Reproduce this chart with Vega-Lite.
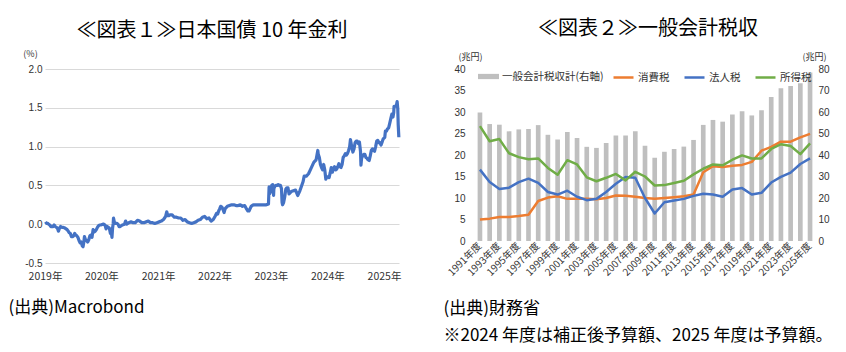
{
  "$schema": "https://vega.github.io/schema/vega-lite/v6.json",
  "padding": {"left": 8, "top": 19, "right": 5, "bottom": 5},
  "bounds": "flush",
  "spacing": 76,
  "config": {"view": {"stroke": null}, "font": "Noto Sans CJK JP", "axis": {"labelFont": "Liberation Sans", "labelColor": "#333333"}},
  "datasets": {
    "jgb": [
      {"date":"2019-01-04","yield":0.03},{"date":"2019-01-11","yield":0.01},{"date":"2019-01-18","yield":0.01},{"date":"2019-01-25","yield":0.0},
      {"date":"2019-02-01","yield":-0.01},{"date":"2019-02-08","yield":-0.03},{"date":"2019-02-15","yield":-0.03},{"date":"2019-02-22","yield":-0.03},
      {"date":"2019-03-01","yield":-0.01},{"date":"2019-03-08","yield":-0.03},{"date":"2019-03-15","yield":-0.04},{"date":"2019-03-22","yield":-0.05},{"date":"2019-03-29","yield":-0.09},
      {"date":"2019-04-05","yield":-0.05},{"date":"2019-04-12","yield":-0.03},{"date":"2019-04-19","yield":-0.04},{"date":"2019-04-26","yield":-0.04},
      {"date":"2019-05-10","yield":-0.05},{"date":"2019-05-17","yield":-0.06},{"date":"2019-05-24","yield":-0.07},{"date":"2019-05-31","yield":-0.09},
      {"date":"2019-06-07","yield":-0.11},{"date":"2019-06-14","yield":-0.12},{"date":"2019-06-21","yield":-0.16},{"date":"2019-06-28","yield":-0.16},
      {"date":"2019-07-05","yield":-0.15},{"date":"2019-07-12","yield":-0.12},{"date":"2019-07-19","yield":-0.14},{"date":"2019-07-26","yield":-0.15},
      {"date":"2019-08-02","yield":-0.17},{"date":"2019-08-09","yield":-0.21},{"date":"2019-08-16","yield":-0.24},{"date":"2019-08-23","yield":-0.23},{"date":"2019-08-30","yield":-0.28},
      {"date":"2019-09-04","yield":-0.29},{"date":"2019-09-10","yield":-0.22},{"date":"2019-09-13","yield":-0.16},{"date":"2019-09-20","yield":-0.2},{"date":"2019-09-27","yield":-0.21},
      {"date":"2019-10-04","yield":-0.23},{"date":"2019-10-11","yield":-0.2},{"date":"2019-10-18","yield":-0.15},{"date":"2019-10-25","yield":-0.14},
      {"date":"2019-11-01","yield":-0.17},{"date":"2019-11-08","yield":-0.07},{"date":"2019-11-15","yield":-0.1},{"date":"2019-11-22","yield":-0.09},{"date":"2019-11-29","yield":-0.07},
      {"date":"2019-12-06","yield":-0.04},{"date":"2019-12-13","yield":-0.02},{"date":"2019-12-20","yield":-0.01},{"date":"2019-12-27","yield":-0.01},
      {"date":"2020-01-10","yield":0.0},{"date":"2020-01-17","yield":0.0},{"date":"2020-01-24","yield":-0.01},{"date":"2020-01-31","yield":-0.06},
      {"date":"2020-02-07","yield":-0.03},{"date":"2020-02-14","yield":-0.04},{"date":"2020-02-21","yield":-0.05},{"date":"2020-02-28","yield":-0.12},
      {"date":"2020-03-06","yield":-0.12},{"date":"2020-03-09","yield":-0.17},{"date":"2020-03-13","yield":-0.05},{"date":"2020-03-17","yield":0.01},{"date":"2020-03-19","yield":0.08},{"date":"2020-03-24","yield":0.03},{"date":"2020-03-31","yield":0.01},
      {"date":"2020-04-10","yield":0.01},{"date":"2020-04-17","yield":0.0},{"date":"2020-04-24","yield":-0.03},{"date":"2020-05-01","yield":-0.03},{"date":"2020-05-15","yield":-0.01},{"date":"2020-05-29","yield":0.0},
      {"date":"2020-06-05","yield":0.04},{"date":"2020-06-12","yield":0.0},{"date":"2020-06-26","yield":0.02},{"date":"2020-07-10","yield":0.03},{"date":"2020-07-24","yield":0.02},
      {"date":"2020-08-07","yield":0.02},{"date":"2020-08-21","yield":0.05},{"date":"2020-09-04","yield":0.04},{"date":"2020-09-18","yield":0.02},
      {"date":"2020-10-02","yield":0.02},{"date":"2020-10-16","yield":0.03},{"date":"2020-10-30","yield":0.04},{"date":"2020-11-13","yield":0.02},{"date":"2020-11-27","yield":0.02},
      {"date":"2020-12-11","yield":0.01},{"date":"2020-12-25","yield":0.02},
      {"date":"2021-01-08","yield":0.03},{"date":"2021-01-22","yield":0.04},{"date":"2021-02-05","yield":0.06},{"date":"2021-02-12","yield":0.08},{"date":"2021-02-19","yield":0.1},{"date":"2021-02-26","yield":0.16},
      {"date":"2021-03-05","yield":0.11},{"date":"2021-03-12","yield":0.11},{"date":"2021-03-19","yield":0.12},{"date":"2021-04-02","yield":0.12},{"date":"2021-04-16","yield":0.09},{"date":"2021-04-30","yield":0.09},
      {"date":"2021-05-14","yield":0.08},{"date":"2021-05-28","yield":0.08},{"date":"2021-06-11","yield":0.05},{"date":"2021-06-25","yield":0.06},
      {"date":"2021-07-09","yield":0.03},{"date":"2021-07-23","yield":0.02},{"date":"2021-08-06","yield":0.01},{"date":"2021-08-20","yield":0.02},
      {"date":"2021-09-03","yield":0.03},{"date":"2021-09-17","yield":0.05},{"date":"2021-10-01","yield":0.06},{"date":"2021-10-15","yield":0.09},{"date":"2021-10-29","yield":0.1},
      {"date":"2021-11-12","yield":0.07},{"date":"2021-11-26","yield":0.08},{"date":"2021-12-10","yield":0.04},{"date":"2021-12-24","yield":0.06},
      {"date":"2022-01-07","yield":0.11},{"date":"2022-01-14","yield":0.14},{"date":"2022-01-21","yield":0.13},{"date":"2022-01-28","yield":0.17},
      {"date":"2022-02-04","yield":0.2},{"date":"2022-02-10","yield":0.23},{"date":"2022-02-18","yield":0.22},{"date":"2022-02-25","yield":0.19},
      {"date":"2022-03-04","yield":0.15},{"date":"2022-03-11","yield":0.2},{"date":"2022-03-25","yield":0.23},{"date":"2022-04-08","yield":0.24},{"date":"2022-04-22","yield":0.25},
      {"date":"2022-05-06","yield":0.25},{"date":"2022-05-20","yield":0.24},{"date":"2022-06-03","yield":0.24},{"date":"2022-06-17","yield":0.25},
      {"date":"2022-07-01","yield":0.23},{"date":"2022-07-15","yield":0.24},{"date":"2022-07-29","yield":0.19},{"date":"2022-08-05","yield":0.17},{"date":"2022-08-12","yield":0.17},{"date":"2022-08-26","yield":0.23},
      {"date":"2022-09-09","yield":0.25},{"date":"2022-09-23","yield":0.25},{"date":"2022-10-07","yield":0.25},{"date":"2022-10-21","yield":0.25},{"date":"2022-11-04","yield":0.25},{"date":"2022-11-18","yield":0.25},
      {"date":"2022-12-02","yield":0.25},{"date":"2022-12-16","yield":0.26},{"date":"2022-12-20","yield":0.48},{"date":"2022-12-23","yield":0.39},{"date":"2022-12-30","yield":0.42},
      {"date":"2023-01-06","yield":0.5},{"date":"2023-01-13","yield":0.51},{"date":"2023-01-18","yield":0.37},{"date":"2023-01-20","yield":0.46},{"date":"2023-01-27","yield":0.49},
      {"date":"2023-02-03","yield":0.5},{"date":"2023-02-10","yield":0.5},{"date":"2023-02-17","yield":0.51},{"date":"2023-02-24","yield":0.5},
      {"date":"2023-03-03","yield":0.5},{"date":"2023-03-10","yield":0.46},{"date":"2023-03-14","yield":0.28},{"date":"2023-03-17","yield":0.25},{"date":"2023-03-24","yield":0.28},{"date":"2023-03-31","yield":0.35},
      {"date":"2023-04-07","yield":0.45},{"date":"2023-04-14","yield":0.47},{"date":"2023-04-21","yield":0.47},{"date":"2023-04-28","yield":0.39},
      {"date":"2023-05-12","yield":0.42},{"date":"2023-05-26","yield":0.43},{"date":"2023-06-09","yield":0.44},{"date":"2023-06-23","yield":0.37},
      {"date":"2023-07-07","yield":0.43},{"date":"2023-07-14","yield":0.47},{"date":"2023-07-28","yield":0.55},{"date":"2023-08-04","yield":0.62},{"date":"2023-08-18","yield":0.62},
      {"date":"2023-09-01","yield":0.65},{"date":"2023-09-15","yield":0.71},{"date":"2023-09-29","yield":0.77},{"date":"2023-10-06","yield":0.8},{"date":"2023-10-20","yield":0.83},{"date":"2023-10-31","yield":0.95},
      {"date":"2023-11-03","yield":0.9},{"date":"2023-11-10","yield":0.86},{"date":"2023-11-17","yield":0.77},{"date":"2023-11-24","yield":0.73},
      {"date":"2023-12-01","yield":0.7},{"date":"2023-12-08","yield":0.77},{"date":"2023-12-15","yield":0.7},{"date":"2023-12-22","yield":0.58},{"date":"2023-12-29","yield":0.61},
      {"date":"2024-01-05","yield":0.61},{"date":"2024-01-12","yield":0.6},{"date":"2024-01-19","yield":0.66},{"date":"2024-01-26","yield":0.73},
      {"date":"2024-02-02","yield":0.67},{"date":"2024-02-09","yield":0.72},{"date":"2024-02-16","yield":0.74},{"date":"2024-02-23","yield":0.7},
      {"date":"2024-03-01","yield":0.71},{"date":"2024-03-08","yield":0.74},{"date":"2024-03-15","yield":0.78},{"date":"2024-03-22","yield":0.74},{"date":"2024-03-29","yield":0.73},
      {"date":"2024-04-05","yield":0.77},{"date":"2024-04-12","yield":0.86},{"date":"2024-04-19","yield":0.88},{"date":"2024-04-26","yield":0.91},
      {"date":"2024-05-02","yield":0.89},{"date":"2024-05-10","yield":0.91},{"date":"2024-05-17","yield":0.95},{"date":"2024-05-24","yield":1.0},{"date":"2024-05-29","yield":1.09},
      {"date":"2024-06-07","yield":0.99},{"date":"2024-06-14","yield":0.93},{"date":"2024-06-21","yield":0.97},{"date":"2024-06-28","yield":1.05},
      {"date":"2024-07-05","yield":1.07},{"date":"2024-07-12","yield":1.07},{"date":"2024-07-19","yield":1.04},{"date":"2024-07-26","yield":1.06},
      {"date":"2024-08-02","yield":0.94},{"date":"2024-08-05","yield":0.76},{"date":"2024-08-09","yield":0.85},{"date":"2024-08-16","yield":0.88},{"date":"2024-08-23","yield":0.9},{"date":"2024-08-30","yield":0.9},
      {"date":"2024-09-06","yield":0.86},{"date":"2024-09-13","yield":0.85},{"date":"2024-09-20","yield":0.83},{"date":"2024-09-27","yield":0.82},
      {"date":"2024-10-04","yield":0.88},{"date":"2024-10-11","yield":0.95},{"date":"2024-10-18","yield":0.97},{"date":"2024-10-25","yield":0.95},
      {"date":"2024-11-01","yield":0.94},{"date":"2024-11-08","yield":1.0},{"date":"2024-11-15","yield":1.07},{"date":"2024-11-22","yield":1.08},{"date":"2024-11-29","yield":1.05},
      {"date":"2024-12-06","yield":1.05},{"date":"2024-12-13","yield":1.02},{"date":"2024-12-20","yield":1.06},{"date":"2024-12-27","yield":1.1},
      {"date":"2025-01-06","yield":1.12},{"date":"2025-01-10","yield":1.2},{"date":"2025-01-17","yield":1.2},{"date":"2025-01-24","yield":1.23},{"date":"2025-01-31","yield":1.24},
      {"date":"2025-02-07","yield":1.3},{"date":"2025-02-14","yield":1.36},{"date":"2025-02-21","yield":1.42},{"date":"2025-02-28","yield":1.38},
      {"date":"2025-03-05","yield":1.44},{"date":"2025-03-07","yield":1.52},{"date":"2025-03-14","yield":1.52},{"date":"2025-03-21","yield":1.52},{"date":"2025-03-27","yield":1.58},{"date":"2025-03-31","yield":1.49},
      {"date":"2025-04-03","yield":1.28},{"date":"2025-04-07","yield":1.12}
    ],
    "tax": [
      {"年度":"1991年度","税収計":59.8,"消費税":5.0,"法人税":16.6,"所得税":26.7},
      {"年度":"1992年度","税収計":54.4,"消費税":5.2,"法人税":13.7,"所得税":23.2},
      {"年度":"1993年度","税収計":54.1,"消費税":5.6,"法人税":12.1,"所得税":23.7},
      {"年度":"1994年度","税収計":51.0,"消費税":5.6,"法人税":12.4,"所得税":20.4},
      {"年度":"1995年度","税収計":51.9,"消費税":5.8,"法人税":13.7,"所得税":19.5},
      {"年度":"1996年度","税収計":52.1,"消費税":6.1,"法人税":14.5,"所得税":19.0},
      {"年度":"1997年度","税収計":53.9,"消費税":9.3,"法人税":13.5,"所得税":19.2},
      {"年度":"1998年度","税収計":49.4,"消費税":10.1,"法人税":11.4,"所得税":17.0},
      {"年度":"1999年度","税収計":47.2,"消費税":10.4,"法人税":10.8,"所得税":15.4},
      {"年度":"2000年度","税収計":50.7,"消費税":9.8,"法人税":11.7,"所得税":18.8},
      {"年度":"2001年度","税収計":47.9,"消費税":9.8,"法人税":10.3,"所得税":17.8},
      {"年度":"2002年度","税収計":43.8,"消費税":9.8,"法人税":9.5,"所得税":14.8},
      {"年度":"2003年度","税収計":43.3,"消費税":9.7,"法人税":9.8,"所得税":13.9},
      {"年度":"2004年度","税収計":45.6,"消費税":10.0,"法人税":11.4,"所得税":14.7},
      {"年度":"2005年度","税収計":49.1,"消費税":10.6,"法人税":13.3,"所得税":15.6},
      {"年度":"2006年度","税収計":49.1,"消費税":10.5,"法人税":14.9,"所得税":14.1},
      {"年度":"2007年度","税収計":51.0,"消費税":10.3,"法人税":14.7,"所得税":16.1},
      {"年度":"2008年度","税収計":44.3,"消費税":10.0,"法人税":10.0,"所得税":15.0},
      {"年度":"2009年度","税収計":38.7,"消費税":9.8,"法人税":6.4,"所得税":12.9},
      {"年度":"2010年度","税収計":41.5,"消費税":10.0,"法人税":9.0,"所得税":13.0},
      {"年度":"2011年度","税収計":42.8,"消費税":10.2,"法人税":9.4,"所得税":13.5},
      {"年度":"2012年度","税収計":43.9,"消費税":10.4,"法人税":9.8,"所得税":14.0},
      {"年度":"2013年度","税収計":47.0,"消費税":10.8,"法人税":10.5,"所得税":15.5},
      {"年度":"2014年度","税収計":54.0,"消費税":16.0,"法人税":11.0,"所得税":16.8},
      {"年度":"2015年度","税収計":56.3,"消費税":17.4,"法人税":10.8,"所得税":17.8},
      {"年度":"2016年度","税収計":55.5,"消費税":17.2,"法人税":10.3,"所得税":17.6},
      {"年度":"2017年度","税収計":58.8,"消費税":17.5,"法人税":12.0,"所得税":18.9},
      {"年度":"2018年度","税収計":60.4,"消費税":17.7,"法人税":12.3,"所得税":19.9},
      {"年度":"2019年度","税収計":58.4,"消費税":18.4,"法人税":10.8,"所得税":19.2},
      {"年度":"2020年度","税収計":60.8,"消費税":21.0,"法人税":11.2,"所得税":19.2},
      {"年度":"2021年度","税収計":67.0,"消費税":21.9,"法人税":13.6,"所得税":21.4},
      {"年度":"2022年度","税収計":71.1,"消費税":23.1,"法人税":14.9,"所得税":22.5},
      {"年度":"2023年度","税収計":72.1,"消費税":23.1,"法人税":15.9,"所得税":22.1},
      {"年度":"2024年度","税収計":73.4,"消費税":24.1,"法人税":17.9,"所得税":20.2},
      {"年度":"2025年度","税収計":78.4,"消費税":24.9,"法人税":19.2,"所得税":22.7}
    ]
  },
  "hconcat": [
    {
      "width": 354,
      "height": 194,
      "title": {"text": "≪図表１≫日本国債 10 年金利", "fontSize": 20, "fontWeight": "normal", "color": "#000000", "anchor": "middle", "dx": -10, "offset": -8, "baseline": "alphabetic"},
      "data": {"name": "jgb"},
      "mark": {"type": "line", "color": "#4472C4", "strokeWidth": 3.2, "strokeJoin": "round"},
      "encoding": {
        "x": {
          "field": "date", "type": "temporal",
          "scale": {"domain": ["2019-01-01", "2025-04-08"]},
          "axis": {
            "values": [{"year": 2019}, {"year": 2020}, {"year": 2021}, {"year": 2022}, {"year": 2023}, {"year": 2024}, {"year": 2025}],
            "format": "%Y年", "labelFlush": false, "labelOverlap": false, "grid": false, "ticks": false, "domain": false,
            "labelFontSize": 10.5, "labelFont": "Noto Sans CJK JP", "labelPadding": 8,
            "title": "(出典)Macrobond", "titleFontSize": 17, "titleFontWeight": "normal", "titleColor": "#000000",
            "titleAnchor": "start", "titleAlign": "left", "titleBaseline": "top", "titleX": -37, "titleY": 36
          }
        },
        "y": {
          "field": "yield", "type": "quantitative",
          "scale": {"domain": [-0.5, 2.0]},
          "axis": {
            "values": [-0.5, 0, 0.5, 1, 1.5, 2],
            "labelExpr": "replace(format(datum.value, '.1f'), '−', '-')",
            "gridColor": "#d9d9d9", "domain": false, "ticks": false, "labelFontSize": 10, "labelPadding": 3,
            "title": "(%)", "titleAngle": 0, "titleFontSize": 9, "titleFontWeight": "normal", "titleColor": "#333333",
            "titleAlign": "center", "titleBaseline": "middle", "titleX": -15, "titleY": -16
          }
        }
      }
    },
    {
      "width": 340,
      "height": 172,
      "title": {"text": "≪図表２≫一般会計税収", "fontSize": 20, "fontWeight": "normal", "color": "#000000", "anchor": "middle", "dx": 3, "offset": -3, "baseline": "alphabetic"},
      "data": {"name": "tax"},
      "layer": [
        {
          "mark": {"type": "bar"},
          "encoding": {
            "x": {
              "field": "年度", "type": "nominal", "sort": null,
              "scale": {"paddingInner": 0.52, "paddingOuter": 0.27},
              "axis": {
                "values": ["1991年度","1993年度","1995年度","1997年度","1999年度","2001年度","2003年度","2005年度","2007年度","2009年度","2011年度","2013年度","2015年度","2017年度","2019年度","2021年度","2023年度","2025年度"],
                "labelAngle": -45, "labelAlign": "right", "labelBaseline": "middle", "labelFont": "Noto Sans CJK JP",
                "labelFontSize": 10, "labelPadding": 3, "ticks": false, "domain": false, "grid": false, "labelOverlap": false,
                "title": ["(出典)財務省", "※2024 年度は補正後予算額、2025 年度は予算額。"],
                "titleFontSize": 17, "titleFontWeight": "normal", "titleColor": "#000000", "titleLineHeight": 27,
                "titleAnchor": "start", "titleAlign": "left", "titleBaseline": "top", "titleX": -32, "titleY": 59
              }
            },
            "y": {
              "field": "税収計", "type": "quantitative",
              "scale": {"domain": [0, 80]},
              "axis": {
                "orient": "right", "values": [0, 10, 20, 30, 40, 50, 60, 70, 80], "grid": false, "domain": false, "ticks": false,
                "labelFontSize": 10, "labelPadding": 3,
                "title": "(兆円)", "titleAngle": 0, "titleFontSize": 9, "titleFontWeight": "normal", "titleColor": "#333333",
                "titleAlign": "center", "titleBaseline": "middle", "titleX": -1, "titleY": -13
              }
            },
            "fill": {
              "datum": "一般会計税収計(右軸)",
              "scale": {"range": ["#BFBFBF"]},
              "legend": {
                "orient": "none", "legendX": 3, "legendY": -3, "direction": "horizontal", "title": null,
                "symbolType": "M-1,-0.25H1V0.25H-1Z", "symbolSize": 441, "symbolStrokeWidth": 0,
                "labelFontSize": 10.5, "labelOffset": 3, "labelColor": "#333333", "padding": 0
              }
            }
          }
        },
        {
          "transform": [{"fold": ["消費税", "法人税", "所得税"], "as": ["税目", "税額"]}],
          "mark": {"type": "line", "strokeWidth": 2.5, "strokeJoin": "round"},
          "encoding": {
            "x": {
              "field": "年度", "type": "nominal", "sort": null
            },
            "y": {
              "field": "税額", "type": "quantitative",
              "scale": {"domain": [0, 40]},
              "axis": {
                "orient": "left", "values": [0, 5, 10, 15, 20, 25, 30, 35, 40], "gridColor": "#d9d9d9", "domain": false, "ticks": false,
                "labelFontSize": 10, "labelPadding": 10,
                "title": "(兆円)", "titleAngle": 0, "titleFontSize": 9, "titleFontWeight": "normal", "titleColor": "#333333",
                "titleAlign": "center", "titleBaseline": "middle", "titleX": -5, "titleY": -13
              }
            },
            "stroke": {
              "field": "税目", "type": "nominal",
              "scale": {"domain": ["消費税", "法人税", "所得税"], "range": ["#ED7D31", "#4472C4", "#70AD47"]},
              "legend": {
                "orient": "none", "legendX": 137, "legendY": -3, "direction": "horizontal", "title": null,
                "symbolType": "stroke", "symbolSize": 400, "symbolStrokeWidth": 2.5,
                "labelFontSize": 10.5, "labelOffset": 3, "labelColor": "#333333", "columnPadding": 9, "padding": 0
              }
            }
          }
        }
      ],
      "resolve": {"scale": {"y": "independent", "fill": "independent", "stroke": "independent"}}
    }
  ]
}
